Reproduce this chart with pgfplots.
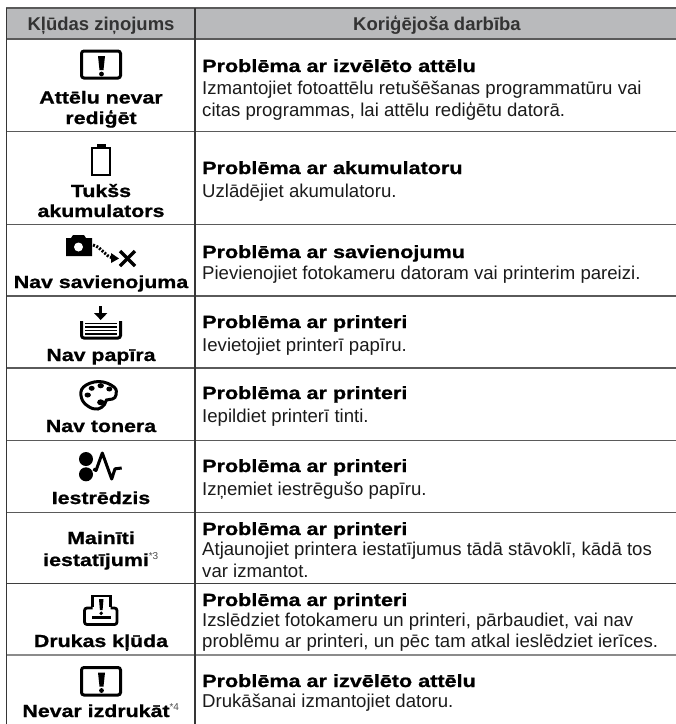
\documentclass[border=0pt]{standalone}
\usepackage{pgfplots}
\pgfplotsset{compat=1.18}
\usepackage{fontspec}
\setmainfont{Liberation Sans}
\newfontfamily\widebold[FakeStretch=1.22,FakeBold=1.0]{Liberation Sans Bold}
\definecolor{hdr}{HTML}{B9BABC}
\definecolor{rule}{HTML}{5A5A5A}
\definecolor{ink}{HTML}{1A1A1A}
\newcommand{\ttl}[2]{\node[anchor=base west,inner sep=0pt,text=black,font=\widebold\fontsize{17.7}{20}\selectfont] at (axis cs:202,#1) {#2};}
\newcommand{\bdy}[2]{\node[anchor=base west,inner sep=0pt,text=ink,font=\fontsize{18.6}{20}\selectfont] at (axis cs:202,#1) {#2};}
\newcommand{\lab}[2]{\node[anchor=base,inner sep=0pt,text=black,font=\widebold\fontsize{17.5}{20}\selectfont] at (axis cs:101,#1) {#2};}
\newcommand{\sps}[1]{\textsuperscript{\normalfont\color{black!70}\fontsize{10}{10}\selectfont *#1}}
\begin{document}
\begin{tikzpicture}
\useasboundingbox (0,0) rectangle (676pt,-724pt);
\begin{axis}[at={(0,0)},anchor=north west,scale only axis,width=676pt,height=724pt,
  xmin=0,xmax=676,ymin=0,ymax=724,y dir=reverse,hide axis,clip=false]
% header band
\addplot[draw=none,fill=hdr] coordinates {(6.5,8) (676,8) (676,39) (6.5,39)} -- cycle;
% horizontal rules
\addplot[rule,line width=1.5pt] coordinates {(6,8) (676,8)};
\addplot[rule,line width=1.5pt] coordinates {(6,39) (676,39)};
\addplot[rule,line width=1.5pt] coordinates {(6,131.5) (676,131.5)};
\addplot[rule,line width=1.5pt] coordinates {(6,224.5) (676,224.5)};
\addplot[rule,line width=1.5pt] coordinates {(6,296) (676,296)};
\addplot[rule,line width=1.5pt] coordinates {(6,368) (676,368)};
\addplot[rule,line width=1.5pt] coordinates {(6,440.5) (676,440.5)};
\addplot[rule,line width=1.5pt] coordinates {(6,512.5) (676,512.5)};
\addplot[rule!70!black,line width=1.5pt] coordinates {(6,583.5) (676,583.5)};
\addplot[rule!70!white,line width=1.7pt] coordinates {(6,655) (676,655)};
% vertical rules
\addplot[rule!60!black,line width=1.2pt] coordinates {(6.5,8) (6.5,724)};
\addplot[rule!60!black,line width=1.2pt] coordinates {(195,8) (195,724)};
% header
\node[anchor=base,inner sep=0pt,text=black!80,font=\bfseries\fontsize{18.5}{20}\selectfont] at (axis cs:101,30) {Kļūdas ziņojums};
\node[anchor=base,inner sep=0pt,text=black!80,font=\bfseries\fontsize{18.5}{20}\selectfont] at (axis cs:437,30) {Koriģējoša darbība};
% left labels
\lab{103.5}{Attēlu nevar}
\lab{124}{rediģēt}
\lab{197}{Tukšs}
\lab{217}{akumulators}
\lab{288}{Nav savienojuma}
\lab{361}{Nav papīra}
\lab{432}{Nav tonera}
\lab{504}{Iestrēdzis}
\lab{544}{Mainīti}
\lab{566}{iestatījumi\sps{3}}
\lab{647}{Drukas kļūda}
\lab{717}{Nevar izdrukāt\sps{4}}
% right column
\ttl{72}{Problēma ar izvēlēto attēlu}
\bdy{94}{Izmantojiet fotoattēlu retušēšanas programmatūru vai}
\bdy{116}{citas programmas, lai attēlu rediģētu datorā.}
\ttl{174}{Problēma ar akumulatoru}
\bdy{197}{Uzlādējiet akumulatoru.}
\ttl{258}{Problēma ar savienojumu}
\bdy{279}{Pievienojiet fotokameru datoram vai printerim pareizi.}
\ttl{328}{Problēma ar printeri}
\bdy{351}{Ievietojiet printerī papīru.}
\ttl{399}{Problēma ar printeri}
\bdy{422}{Iepildiet printerī tinti.}
\ttl{472}{Problēma ar printeri}
\bdy{495}{Izņemiet iestrēgušo papīru.}
\ttl{535}{Problēma ar printeri}
\bdy{555}{Atjaunojiet printera iestatījumus tādā stāvoklī, kādā tos}
\bdy{577}{var izmantot.}
\ttl{606}{Problēma ar printeri}
\bdy{626}{Izslēdziet fotokameru un printeri, pārbaudiet, vai nav}
\bdy{647}{problēmu ar printeri, un pēc tam atkal ieslēdziet ierīces.}
\ttl{687}{Problēma ar izvēlēto attēlu}
\bdy{707}{Drukāšanai izmantojiet datoru.}
% alert icons
\draw[black,line width=3pt,rounded corners=2.5pt] (axis cs:81.5,51) rectangle (axis cs:120.5,78);
\fill[black] (axis cs:98,56) -- (axis cs:105,56) -- (axis cs:103.5,70) -- (axis cs:99.5,70) -- cycle;
\fill[black] (axis cs:101.5,74) circle[radius=2.4pt];
\draw[black,line width=3pt,rounded corners=2.5pt] (axis cs:81.5,667.5) rectangle (axis cs:120.5,695);
\fill[black] (axis cs:98,672.5) -- (axis cs:105,672.5) -- (axis cs:103.5,686.5) -- (axis cs:99.5,686.5) -- cycle;
\fill[black] (axis cs:101.5,690.5) circle[radius=2.4pt];
% battery
\draw[black,line width=2.6pt] (axis cs:92,148) rectangle (axis cs:110,175);
\fill[black] (axis cs:96.5,143.5) rectangle (axis cs:105.5,148);
% camera
\fill[black] (axis cs:66,238) -- (axis cs:71,238) -- (axis cs:73,235) -- (axis cs:84,235) -- (axis cs:86,238) -- (axis cs:92,238) -- (axis cs:92,256) -- (axis cs:66,256) -- cycle;
\fill[white] (axis cs:78.5,247) circle[radius=4.5pt];
\draw[black,line width=3pt,dash pattern=on 2pt off 1.5pt] (axis cs:93,245) .. controls (axis cs:102,247) and (axis cs:104,256) .. (axis cs:113,258);
\fill[black] (axis cs:111,253) -- (axis cs:119,258.5) -- (axis cs:111,263) -- cycle;
\draw[black,line width=3.4pt] (axis cs:120,251) -- (axis cs:135,266);
\draw[black,line width=3.4pt] (axis cs:135,251) -- (axis cs:120,266);
% tray
\draw[black,line width=2.8pt] (axis cs:100.7,306) -- (axis cs:100.7,314);
\fill[black] (axis cs:94,313) -- (axis cs:107.4,313) -- (axis cs:100.7,320) -- cycle;
\draw[black,line width=3pt,rounded corners=2.5pt] (axis cs:81.5,321) -- (axis cs:81.5,338) -- (axis cs:120.5,338) -- (axis cs:120.5,321);
\draw[black,line width=1.2pt] (axis cs:85,323.5) -- (axis cs:117,323.5);
\draw[black,line width=1.2pt] (axis cs:85,327) -- (axis cs:117,327);
\draw[black,line width=1.2pt] (axis cs:85,330.5) -- (axis cs:117,330.5);
\draw[black,line width=1.2pt] (axis cs:85,334) -- (axis cs:117,334);
% palette
\draw[black,line width=3pt] plot[smooth cycle,tension=0.7] coordinates {(axis cs:99,381.5) (axis cs:114,387) (axis cs:116,395) (axis cs:112.5,399) (axis cs:106.5,400) (axis cs:104.5,404.5) (axis cs:98,409) (axis cs:88.5,406.5) (axis cs:81.5,398) (axis cs:83.5,387)};
\fill[black] (axis cs:87.7,395) ellipse[x radius=3.2pt,y radius=2.5pt];
\fill[black] (axis cs:91.7,388.3) ellipse[x radius=3pt,y radius=2.5pt];
\fill[black] (axis cs:100.7,385.7) ellipse[x radius=3.2pt,y radius=2.6pt];
\fill[black] (axis cs:109.3,389) ellipse[x radius=3pt,y radius=2.5pt];
\fill[black] (axis cs:100.7,402.3) ellipse[x radius=3.6pt,y radius=3pt];
% clogged
\fill[black] (axis cs:86,459) circle[radius=7pt];
\fill[black] (axis cs:86,474.3) circle[radius=7pt];
\draw[black,line width=3pt,line join=round] (axis cs:93.3,469) -- (axis cs:96,470.5) -- (axis cs:102.3,453) -- (axis cs:111.7,479) -- (axis cs:115,468.8) -- (axis cs:121.7,468);
% printer error
\draw[black,line width=2.8pt] (axis cs:92.5,607) -- (axis cs:92.5,596) -- (axis cs:110.5,596) -- (axis cs:110.5,607);
\draw[black,line width=2.4pt] (axis cs:92,617.5) -- (axis cs:111,617.5);
\draw[black,line width=2.8pt,rounded corners=2.5pt] (axis cs:92.5,608) -- (axis cs:84.5,608) -- (axis cs:84.5,624.5) -- (axis cs:117,624.5) -- (axis cs:117,608) -- (axis cs:110.5,608);
\fill[black] (axis cs:99,599) -- (axis cs:103.5,599) -- (axis cs:102.6,610) -- (axis cs:99.9,610) -- cycle;
\fill[black] (axis cs:101.2,613.3) circle[radius=1.9pt];
\end{axis}
\end{tikzpicture}
\end{document}
